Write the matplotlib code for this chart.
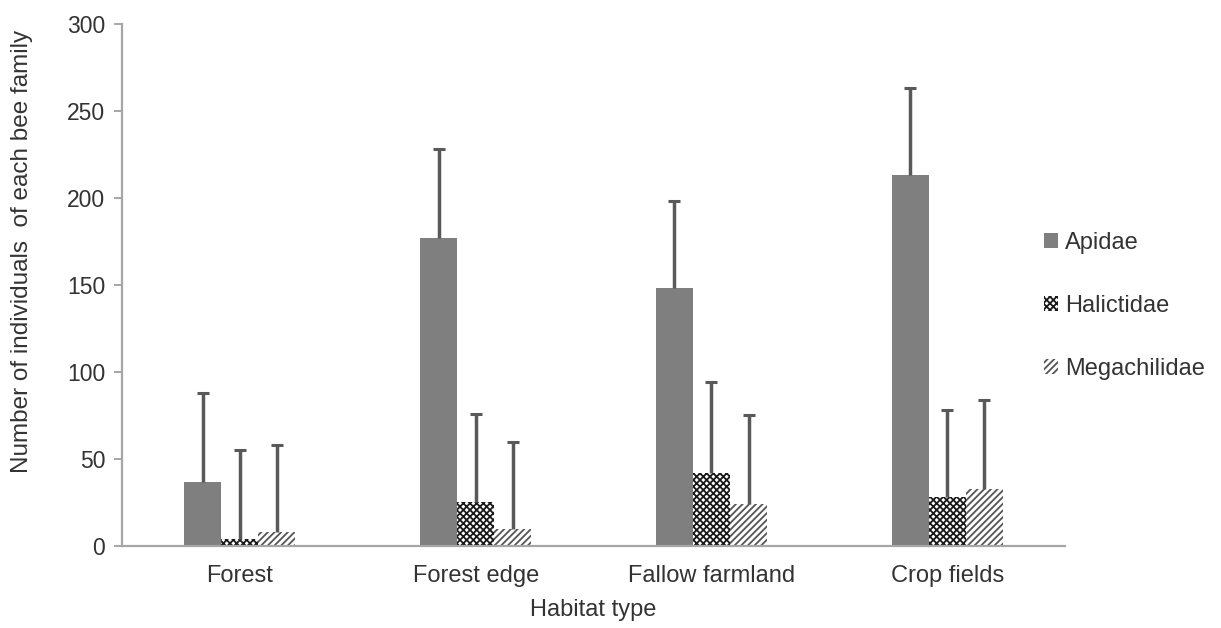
import numpy as np
import matplotlib.pyplot as plt

plt.rcParams['font.family'] = ['Liberation Sans', 'DejaVu Sans']
plt.rcParams['hatch.linewidth'] = 1.3

habitats = ['Forest', 'Forest edge', 'Fallow farmland', 'Crop fields']
families = ['Apidae', 'Halictidae', 'Megachilidae']
apidae = [37, 177, 148, 213]
halictidae = [4, 25, 42, 28]
megachilidae = [8, 10, 24, 33]
apidae_err = [51, 51, 50, 50]
halictidae_err = [51, 51, 52, 50]
megachilidae_err = [50, 50, 51, 51]

values = [apidae, halictidae, megachilidae]
errors = [apidae_err, halictidae_err, megachilidae_err]
facecolors = ['#7f7f7f', 'white', 'white']
hatchcolors = ['#7f7f7f', '#1a1a1a', '#555555']
hatches = [None, 'xxxxx', '/////']

fig = plt.figure(figsize=(12.21, 6.28), dpi=100)
ax = fig.add_axes([0.0999, 0.1306, 0.7725, 0.8312])

x = np.arange(len(habitats))
w = 0.157
for i, fam in enumerate(families):
    pos = x + (i - 1) * w
    ax.bar(pos, values[i], width=w, color=facecolors[i], edgecolor=hatchcolors[i],
           hatch=hatches[i], linewidth=0, label=fam, zorder=2)
    eb = ax.errorbar(pos, values[i], yerr=[np.zeros(len(habitats)), errors[i]], fmt='none',
                     ecolor='#595959', elinewidth=2.5, capsize=4.5, capthick=2.2, zorder=3)
    eb[1][0].set_visible(False)  # no cap at the bar top

ax.set_xlim(-0.5, len(habitats) - 0.5)
ax.set_ylim(0, 300)
ax.set_yticks(range(0, 301, 50))
ax.set_xticks(x)
ax.set_xticklabels(habitats)
for s in ['top', 'right']:
    ax.spines[s].set_visible(False)
for s in ['left', 'bottom']:
    ax.spines[s].set_color('#a6a6a6')
    ax.spines[s].set_linewidth(1.6)
ax.tick_params(axis='y', length=6, width=1.4, color='#a6a6a6', labelsize=16.5, labelcolor='#333333', pad=6)
ax.tick_params(axis='x', length=0, labelsize=17, labelcolor='#333333', pad=14)
ax.set_xlabel('Habitat type', fontsize=17, color='#333333', labelpad=8)
ax.set_ylabel('Number of individuals  of each bee family', fontsize=17.5, color='#333333')
ax.yaxis.set_label_coords(-0.094, 0.565)

leg = ax.legend(loc='center left', bbox_to_anchor=(0.955, 0.46), frameon=False, fontsize=17,
                handlelength=0.6, handleheight=0.6, handletextpad=0.3, labelspacing=1.75)
for t in leg.get_texts():
    t.set_color('#333333')

fig.savefig('out.png', dpi=100)
